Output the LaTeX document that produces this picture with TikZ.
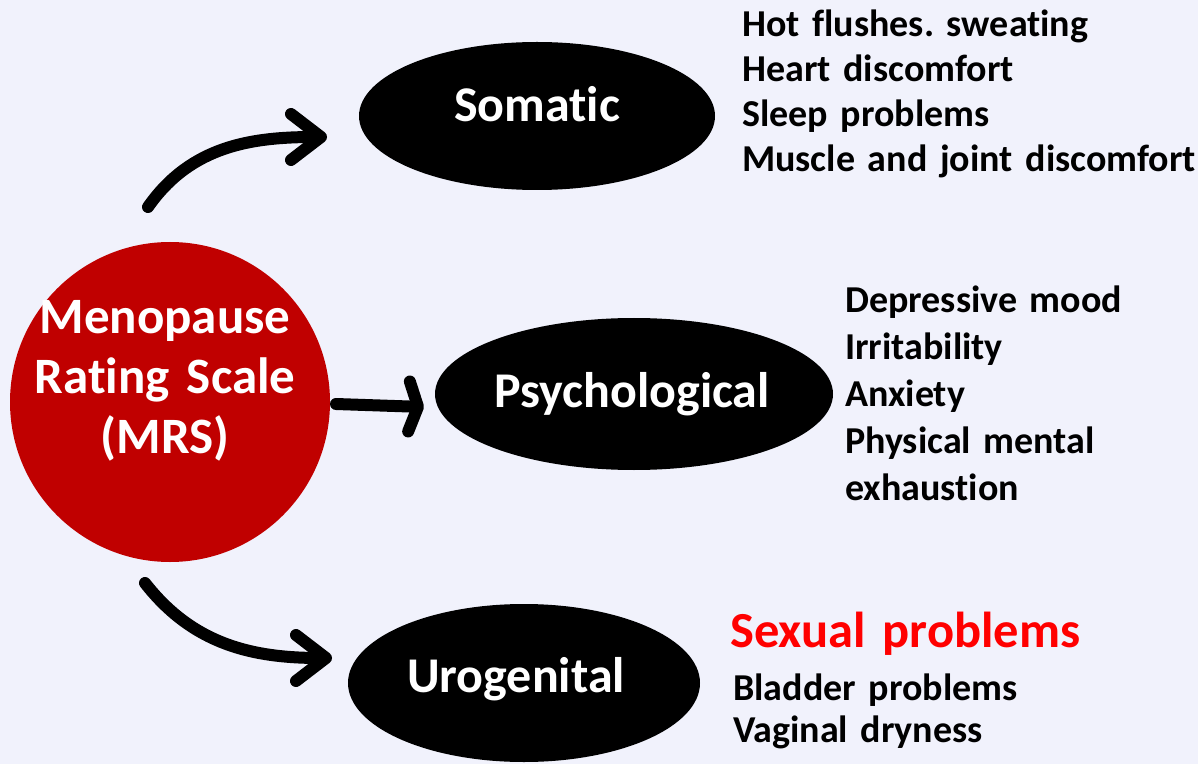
\documentclass[tikz,border=0pt]{standalone}
\usepackage{fontspec}
\setmainfont{Carlito}[Ligatures={NoCommon}]
\usetikzlibrary{arrows.meta,shapes.geometric}
\definecolor{bgc}{RGB}{241,242,252}
\definecolor{mrsred}{RGB}{192,0,0}
\definecolor{hotred}{RGB}{255,0,0}
\newcommand{\nolig}{\kern0pt{}}
\tikzset{
  oval/.style={ellipse, fill=black, text=white, inner sep=0pt, text depth=0pt,
    font=\fontsize{50}{60}\selectfont\bfseries},
  listtext/.style={anchor=base west, inner sep=0pt, text width=460pt, align=left},
  conn/.style={line width=12pt, line cap=round, line join=round},
  shaft/.style={conn, -{Straight Barb[round, length=30pt, width=46pt]}},
  flatshaft/.style={conn, -{Straight Barb[round, length=9pt, width=50pt]}}
}
\begin{document}
\frenchspacing
\begin{tikzpicture}[x=1pt,y=1pt]
\useasboundingbox (0,0) rectangle (1198,764);
\fill[bgc] (0,0) rectangle (1198,764);

% central circle
\node[circle, fill=mrsred, minimum size=320pt, inner sep=0pt] (mrs) at (170,362) {};
\node[anchor=base, inner sep=0pt, text width=320pt, align=center, text=white,
  font=\fontsize{51}{60}\selectfont\bfseries] (mrstext) at (165,431)
  {Menopause\\Rating Scale\\(MRS)};

% category ellipses
\node[oval, minimum width=356pt, minimum height=148pt, text height=12pt] (som) at (537,648) {Somat\nolig ic};
\node[oval, minimum width=398pt, minimum height=152pt, text height=26pt] (psy) at (634,370) {Psychological\hspace*{4pt}};
\node[oval, minimum width=352pt, minimum height=158pt, text height=18pt] (uro) at (524,81) {Urogenital\hspace*{16pt}};

% symptom lists
\node[listtext, font=\fontsize{38}{45}\selectfont\bfseries] (somlist) at (742,727)
  {Hot f\nolig lushes. sweat\nolig ing\\Heart discomfort\\Sleep problems\\Muscle and joint discomfort};
\node[listtext, font=\fontsize{38}{46.8}\selectfont\bfseries] (psylist) at (845,451)
  {Depressive mood\\Irritabilit\nolig y\\Anxiety\\Physical mental\\exhaust\nolig ion};
\node[listtext, text=hotred, font=\fontsize{50.5}{58}\selectfont\bfseries] (sexual) at (730,117)
  {Sexual problems};
\node[listtext, font=\fontsize{38}{42}\selectfont\bfseries] (urolist) at (733,64)
  {Bladder problems\\Vaginal dryness};

% connectors
\coordinate (s1) at (148,557);
\coordinate (e1) at (327,627);
\coordinate (s2) at (336,360);
\coordinate (e2) at (424,357);
\coordinate (s3) at (145,181);
\coordinate (e3) at (332,106);
\draw[shaft] (s1) to[out=55, in=180] (e1);
\draw[flatshaft] (s2) -- (e2);
\draw[shaft] (s3) to[out=-52, in=180] (e3);
\end{tikzpicture}
\end{document}
